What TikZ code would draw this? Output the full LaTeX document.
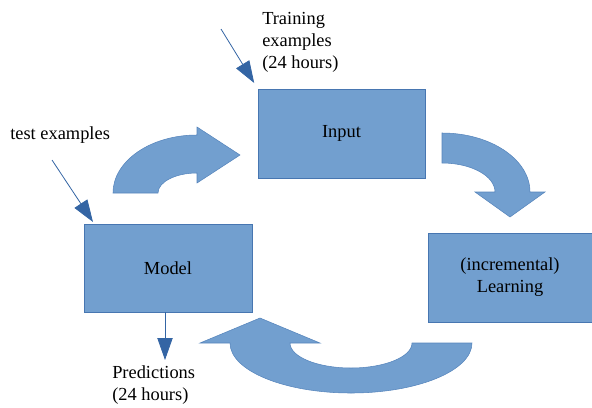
\documentclass[tikz,border=0pt]{standalone}
\usepackage{fontspec}
\setmainfont{Liberation Serif}
\usetikzlibrary{arrows.meta}
\definecolor{boxfill}{HTML}{729FCF}
\definecolor{boxline}{HTML}{3465A4}
\begin{document}
\begin{tikzpicture}[x=0.75pt,y=-0.75pt,
  txt/.style={font=\fontsize{13.8}{16.5}\selectfont, inner sep=0pt, text=black},
  block/.style={draw=boxline!70!boxfill, line width=0.45pt, fill=boxfill, txt, align=center},
  bigarrow/.style={fill=boxfill, draw=boxline!45!boxfill, line width=0.4pt},
  pointer/.style={draw=boxline, line width=0.6pt, -{Triangle[length=16.5pt,width=11.5pt]}}]
\useasboundingbox (0,0) rectangle (592,407);

% boxes
\node[block, minimum width=125.25pt, minimum height=66.75pt] (input) at (341.5,133.5) {\raisebox{-1.5pt}{Input}};
\node[block, minimum width=126pt, minimum height=66pt] (model) at (168,268) {Model};
\node[block, minimum width=123pt, minimum height=66.75pt] (learn) at (510,277.5) {(incremental)\\Learning};

% curved block arrows
\path[bigarrow] (113,193) arc[start angle=180, end angle=270, x radius=84, y radius=58]
  -- (197,127) -- (240,155) -- (197,183) -- (197,173)
  arc[start angle=270, end angle=180, x radius=39, y radius=20] -- cycle;
\path[bigarrow] (442,133) arc[start angle=270, end angle=360, x radius=88, y radius=59]
  -- (545,192) -- (510,217) -- (475,192) -- (495,192)
  arc[start angle=0, end angle=-90, x radius=53, y radius=29] -- cycle;
\path[bigarrow] (230,343) arc[start angle=180, end angle=0, x radius=121, y radius=50]
  -- (412,343) arc[start angle=0, end angle=180, x radius=61, y radius=25]
  -- (320,343) -- (260,318) -- (200,343) -- cycle;

% labels
\node[txt, align=left, anchor=north west] (train) at (262,12) {Training\\examples\\(24 hours)};
\node[txt, anchor=base west] (test) at (10,139) {test examples};
\node[txt, align=left, anchor=north west] (pred) at (112,365) {Predictions\\(24 hours)};

% pointers
\coordinate (trs) at (221,29);
\draw[pointer, shorten >=5pt] (trs) -- (input.north west);
\coordinate (tes) at (52,160);
\coordinate (tet) at (93,222);
\draw[pointer] (tes) -- (tet);
\coordinate (pt) at (165,360);
\draw[pointer] (pt |- model.south) -- (pt);
\end{tikzpicture}
\end{document}
